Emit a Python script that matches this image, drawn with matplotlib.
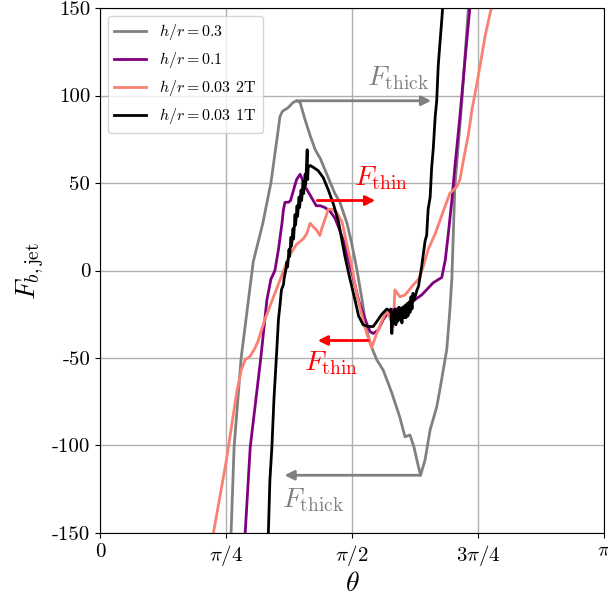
import numpy as np
import matplotlib
matplotlib.use('Agg')
import matplotlib.pyplot as plt

plt.rcParams.update({'font.family': 'serif',
                     'font.serif': ['cmr10'],
                     'mathtext.fontset': 'cm',
                     'axes.unicode_minus': False,
                     'axes.formatter.use_mathtext': True})

# theta in units of pi, force in arbitrary units
th_03 = [0.256, 0.260, 0.266, 0.280, 0.304, 0.323, 0.339, 0.351, 0.357, 0.362, 0.373,
         0.383, 0.390, 0.397, 0.407, 0.417, 0.427, 0.437, 0.450, 0.466, 0.476, 0.490,
         0.499, 0.510, 0.520, 0.529, 0.539, 0.549, 0.562, 0.579, 0.595, 0.605, 0.615,
         0.623, 0.630, 0.636, 0.645, 0.655, 0.668, 0.675, 0.688, 0.694, 0.698, 0.704,
         0.718, 0.732]
F_03 = [-157, -150, -101, -50, 5, 27, 50, 75, 88, 91, 93,
        96, 97, 96, 86, 77, 69, 64, 55, 44, 39, 27,
        16, 0, -17, -34, -44, -51, -57, -70, -84, -95, -94,
        -101, -110, -117, -108, -91, -78, -67, -45, -23, -5, 48,
        97, 155]

th_01 = [0.286, 0.288, 0.298, 0.319, 0.331, 0.339, 0.347, 0.354, 0.361, 0.364, 0.367,
         0.374, 0.378, 0.384, 0.390, 0.397, 0.400, 0.407, 0.413, 0.423, 0.429, 0.437,
         0.446, 0.456, 0.466, 0.473, 0.483, 0.493, 0.503, 0.513, 0.526, 0.536, 0.542,
         0.552, 0.562, 0.572, 0.582, 0.592, 0.602, 0.615, 0.628, 0.638, 0.648, 0.661,
         0.678, 0.685, 0.691, 0.698, 0.704, 0.714, 0.724, 0.734, 0.736]
F_01 = [-157, -150, -101, -50, -17, -5, 0, 12, 27, 35, 39,
        39, 40, 46, 52, 55, 53, 48, 45, 40, 37, 37,
        36, 34, 30, 25, 17, 6, -5, -17, -28, -35, -36,
        -34, -28, -24, -22, -22, -21, -19, -16, -14, -11, -7,
        -4, 6, 21, 40, 59, 88, 120, 151, 157]

th_2T = [0.220, 0.225, 0.251, 0.271, 0.280, 0.288, 0.298, 0.308, 0.314, 0.327, 0.351,
         0.367, 0.377, 0.390, 0.403, 0.410, 0.417, 0.423, 0.430, 0.436, 0.440, 0.446,
         0.453, 0.460, 0.470, 0.480, 0.489, 0.499, 0.509, 0.519, 0.529, 0.539, 0.549,
         0.559, 0.569, 0.575, 0.582, 0.585, 0.595, 0.605, 0.622, 0.632, 0.641, 0.651,
         0.665, 0.675, 0.685, 0.694, 0.708, 0.714, 0.721, 0.731, 0.738, 0.744, 0.754,
         0.764, 0.777, 0.779]
F_2T = [-157, -150, -108, -70, -57, -51, -49, -44, -40, -28, -10,
        2, 9, 15, 18, 21, 27, 25, 23, 20, 24, 29,
        35, 35, 33, 28, 16, 3, -13, -25, -36, -44, -36,
        -29, -23, -27, -32, -11, -15, -14, -8, -5, 2, 12,
        21, 29, 37, 44, 48, 52, 63, 78, 92, 101, 117,
        134, 151, 156]

th_1T = [0.331, 0.334, 0.337, 0.341, 0.345, 0.351, 0.354, 0.357, 0.360, 0.364, 0.365,
         0.369, 0.371, 0.372, 0.375, 0.376, 0.379, 0.380, 0.383, 0.384, 0.387, 0.388,
         0.391, 0.392, 0.395, 0.396, 0.399, 0.400, 0.403, 0.404, 0.407, 0.408, 0.411,
         0.412, 0.413, 0.417, 0.423, 0.433, 0.443, 0.453, 0.463, 0.473, 0.486, 0.496,
         0.506, 0.513, 0.522, 0.532, 0.542, 0.552, 0.559, 0.569, 0.575, 0.577, 0.579,
         0.581, 0.583, 0.585, 0.587, 0.589, 0.591, 0.593, 0.595, 0.597, 0.599, 0.601,
         0.603, 0.605, 0.607, 0.609, 0.611, 0.613, 0.615, 0.617, 0.619, 0.621, 0.623,
         0.627, 0.629, 0.632, 0.638, 0.645, 0.648, 0.651, 0.655, 0.658, 0.661, 0.665,
         0.668, 0.671, 0.675, 0.678, 0.680, 0.682]
F_1T = [-160, -150, -120, -101, -74, -44, -28, -20, -11, -8, -5,
        1, 5, 2, 12, 8, 19, 14, 24, 18, 32, 26,
        37, 31, 42, 36, 46, 40, 51, 44, 55, 49, 69,
        52, 59, 60, 59, 57, 53, 46, 38, 28, 8, -5,
        -17, -26, -31, -32, -32, -28, -25, -22, -23, -22, -36,
        -24, -30, -22, -31, -23, -29, -21, -28, -22, -30, -21,
        -27, -20, -27, -19, -26, -18, -24, -15, -22, -13, -17,
        -13, -11, -9, 2, 17, 20, 35, 42, 59, 69, 88,
        97, 117, 132, 143, 151, 160]

fig = plt.figure(figsize=(6.08, 5.99), dpi=100)
ax = fig.add_axes([0.1645, 0.1102, 0.829, 0.8764])

ax.plot(np.pi * np.array(th_03), F_03, color='grey', lw=2, label=r'$h/r=0.3$')
ax.plot(np.pi * np.array(th_01), F_01, color='purple', lw=2, label=r'$h/r=0.1$')
ax.plot(np.pi * np.array(th_2T), F_2T, color='salmon', lw=2, label=r'$h/r=0.03$ 2T')
ax.plot(np.pi * np.array(th_1T), F_1T, color='black', lw=2, label=r'$h/r=0.03$ 1T')

# force arrows
arr = dict(arrowstyle='-|>', lw=2, mutation_scale=14, shrinkA=0, shrinkB=0)
ax.annotate('', xy=(np.pi * 0.657, 97), xytext=(np.pi * 0.390, 97),
            arrowprops=dict(arr, color='grey'))
ax.annotate('', xy=(np.pi * 0.366, -117), xytext=(np.pi * 0.636, -117),
            arrowprops=dict(arr, color='grey'))
ax.annotate('', xy=(np.pi * 0.546, 40), xytext=(np.pi * 0.431, 40),
            arrowprops=dict(arr, color='red'))
ax.annotate('', xy=(np.pi * 0.432, -40), xytext=(np.pi * 0.532, -40),
            arrowprops=dict(arr, color='red'))

ax.text(np.pi * 0.591, 110, r'$F_{\rm thick}$', color='grey', fontsize=20, ha='center', va='center')
ax.text(np.pi * 0.423, -131, r'$F_{\rm thick}$', color='grey', fontsize=20, ha='center', va='center')
ax.text(np.pi * 0.558, 53, r'$F_{\rm thin}$', color='red', fontsize=20, ha='center', va='center')
ax.text(np.pi * 0.458, -53, r'$F_{\rm thin}$', color='red', fontsize=20, ha='center', va='center')

ax.set_xlim(0, np.pi)
ax.set_ylim(-150, 150)
ax.set_xticks([0, np.pi / 4, np.pi / 2, 3 * np.pi / 4, np.pi])
ax.set_xticklabels(['0', r'$\pi/4$', r'$\pi/2$', r'$3\pi/4$', r'$\pi$'])
yt = [-150, -100, -50, 0, 50, 100, 150]
ax.set_yticks(yt)
ax.set_yticklabels([str(v) for v in yt])
ax.tick_params(labelsize=15)
ax.grid(True, color='#b0b0b0', lw=1)
ax.set_axisbelow(True)
ax.set_xlabel(r'$\theta$', fontsize=20, labelpad=2)
ax.set_ylabel(r'$F_{b,\rm jet}$', fontsize=20)
ax.legend(loc='upper left', fontsize=11.5)

fig.savefig('out.png', dpi=100)
